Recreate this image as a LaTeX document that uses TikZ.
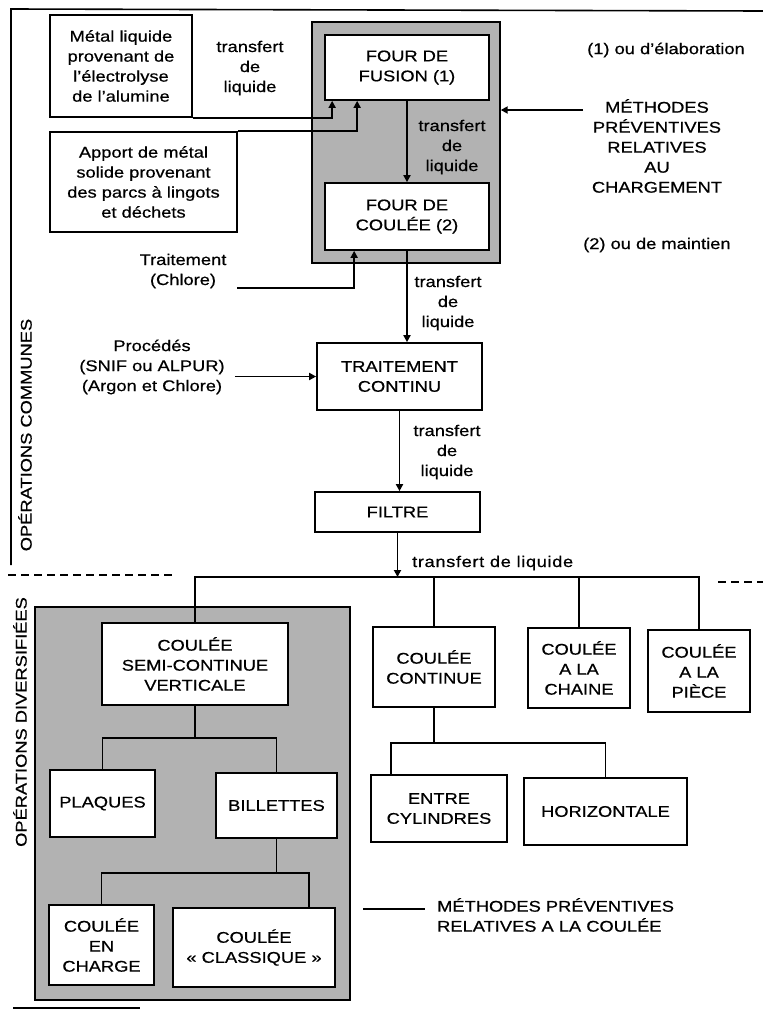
\documentclass[tikz,border=0pt]{standalone}
\usepackage{fontspec}
\setmainfont[FakeStretch=1.18,FakeBold=0.6]{Liberation Sans}
\usetikzlibrary{arrows.meta}

\begin{document}
\begin{tikzpicture}[x=1pt,y=-1pt,
    box/.style={draw,line width=1.7pt,fill=white,align=center,inner sep=0pt,font=\fontsize{15.5}{20}\selectfont},
    zone/.style={draw,line width=1.4pt,fill=black!30,inner sep=0pt},
    txt/.style={align=center,inner sep=0pt,font=\fontsize{15.5}{20}\selectfont},
    lien/.style={line width=1.8pt},
    fleche/.style={line width=1.8pt,-{Triangle[width=7pt,length=7pt]}}]
    \useasboundingbox (0,0) rectangle (763,1010);

    % Frame lines
    \draw[line width=1.6pt] (11,565) -- (11,9) -- (763,11);
    \draw[line width=1.8pt,dash pattern=on 8pt off 5pt] (8,575) -- (176,575);
    \draw[line width=1.8pt,dash pattern=on 8pt off 5pt] (718,582) -- (763,582);
    \draw[line width=2pt] (13,1008) -- (140,1008);

    % Side titles
    \node[txt,rotate=90] (communes) at (25,435) {OPÉRATIONS COMMUNES};
    \node[txt,rotate=90] (diverses) at (20,722) {OPÉRATIONS DIVERSIFIÉES};

    % Furnaces
    \node[zone,minimum width=188,minimum height=241] (grisA) at (406,142.5) {};
    \node[box,minimum width=164,minimum height=65] (fusion) at (407,67.5) {FOUR DE\\FUSION (1)};
    \node[box,minimum width=164,minimum height=67] (couleeF) at (407,216.5) {FOUR DE\\COULÉE (2)};

    % Inputs
    \node[box,minimum width=142,minimum height=102] (metal) at (121,66)
        {Métal liquide\\provenant de\\l'électrolyse\\de l'alumine};
    \node[box,minimum width=187,minimum height=100] (apport) at (143.5,182)
        {Apport de métal\\solide provenant\\des parcs à lingots\\et déchets};
    \node[txt] (transA) at (250,68) {transfert\\de\\liquide};
    \draw[fleche] (metal.south east) -| ([xshift=8pt]fusion.south west);
    \draw[fleche] (apport.north east) -| ([xshift=33pt]fusion.south west);
    \draw[fleche] (fusion.south) -- (couleeF.north);
    \node[txt] (transB) at (452,147) {transfert\\de\\liquide};

    % Notes on the right
    \node[txt,anchor=west] (noteA) at (587,50) {(1) ou d'élaboration};
    \node[txt,anchor=west] (noteB) at (583,245) {(2) ou de maintien};
    \node[txt] (chargement) at (657,146) {MÉTHODES\\PRÉVENTIVES\\RELATIVES\\AU\\CHARGEMENT};
    \coordinate (chargA) at (583,110);
    \draw[fleche] (chargA) -- (grisA.east |- chargA);

    % Treatment
    \node[txt] (chlore) at (183,271) {Traitement\\(Chlore)};
    \coordinate (chloreA) at (237,288);
    \draw[fleche] (chloreA) -| ([xshift=30pt]couleeF.south west);
    \node[box,minimum width=165,minimum height=67] (trait) at (399.5,376.5) {TRAITEMENT\\CONTINU};
    \draw[fleche] (couleeF.south) -- (couleeF.south |- trait.north);
    \node[txt] (transC) at (448,303) {transfert\\de\\liquide};
    \node[txt] (procedes) at (152,367) {Procédés\\(SNIF ou ALPUR)\\(Argon et Chlore)};
    \draw[fleche] ([xshift=10pt]procedes.east |- trait.west) -- (trait.west);

    % Filter
    \node[box,minimum width=165,minimum height=40] (filtre) at (397.5,512) {FILTRE};
    \draw[fleche] (trait.south) -- (trait.south |- filtre.north);
    \node[txt] (transD) at (447,452) {transfert\\de\\liquide};
    \coordinate (busA) at (397,577);
    \draw[fleche] (filtre.south) -- (filtre.south |- busA);
    \node[txt,anchor=west] (transE) at (412,563) {\addfontfeature{LetterSpace=4}transfert de liquide};

    % Semi-continuous casting
    \node[zone,minimum width=315,minimum height=393] (grisB) at (192.5,803.5) {};
    \node[box,minimum width=186,minimum height=82] (scv) at (195,664) {COULÉE\\SEMI-CONTINUE\\VERTICALE};
    \node[box,minimum width=105,minimum height=67] (plaques) at (102.5,803.5) {PLAQUES};
    \node[box,minimum width=121,minimum height=65] (billettes) at (276.5,805.5) {BILLETTES};
    \node[box,minimum width=105,minimum height=80] (charge) at (101.5,945) {COULÉE\\EN\\CHARGE};
    \node[box,minimum width=162,minimum height=79] (classique) at (254,947.5) {COULÉE\\« CLASSIQUE »};
    \coordinate (busB) at (195,738);
    \coordinate (busC) at (276.5,873);
    \draw[lien] (scv.south) -- (busB);
    \draw[lien] (plaques.north) |- (busB) -| (billettes.north);
    \draw[lien] (billettes.south) -- (busC);
    \draw[lien] (charge.north) |- (busC) -| ([xshift=-27pt]classique.north east);

    % Other castings
    \node[box,minimum width=122,minimum height=80] (continue) at (434,667) {COULÉE\\CONTINUE};
    \node[box,minimum width=102,minimum height=80] (chaine) at (579,668) {COULÉE\\A LA\\CHAINE};
    \node[box,minimum width=102,minimum height=82] (piece) at (699,671) {COULÉE\\A LA\\PIÈCE};
    \node[box,minimum width=136,minimum height=67] (entre) at (439,808.5) {ENTRE\\CYLINDRES};
    \node[box,minimum width=163,minimum height=67] (horiz) at (605.5,811.5) {HORIZONTALE};
    \draw[lien] (scv.north) |- (busA) -| (piece.north);
    \draw[lien] (continue.north) -- (continue.north |- busA);
    \draw[lien] (chaine.north) -- (chaine.north |- busA);
    \coordinate (busD) at (434,743);
    \draw[lien] (continue.south) -- (busD);
    \draw[lien] ([xshift=21pt]entre.north west) |- (busD) -| (horiz.north);

    % Legend
    \coordinate (legA) at (363,909);
    \node[txt,align=left,anchor=west] (coulee) at (437,915) {MÉTHODES PRÉVENTIVES\\RELATIVES A LA COULÉE};
    \draw[lien] (legA) -- ++(62,0);
\end{tikzpicture}
\end{document}
